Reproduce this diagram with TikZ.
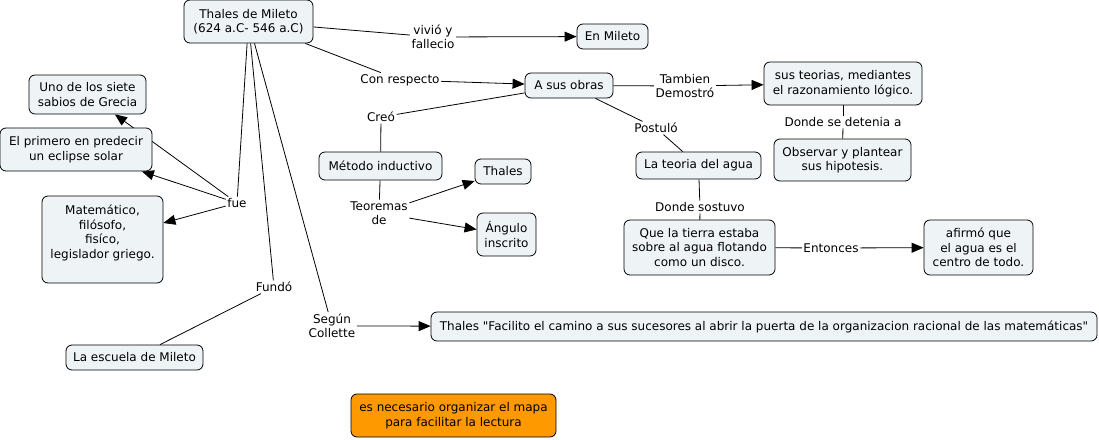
\documentclass[tikz,border=0pt]{standalone}
\usepackage{fontspec}
\setmainfont{DejaVu Sans}
\usetikzlibrary{arrows.meta,backgrounds}
\definecolor{cmapfill}{HTML}{EEF3F6}
\definecolor{cmaporange}{HTML}{FF9900}

\begin{document}
\begin{tikzpicture}[x=1pt,y=-1pt,
		font=\fontsize{12}{14.5}\selectfont,
		concept/.style={draw, rounded corners=6pt, fill=cmapfill, align=center, inner sep=1pt, line width=0.8pt},
		link/.style={align=center, inner sep=1.5pt},
		arr/.style={-{Triangle[length=12pt,width=10pt]}, line width=0.8pt},
		ln/.style={line width=0.8pt}]
	\useasboundingbox (0,0) rectangle (1099,439);
	% concepts
	\node[concept, minimum width=129, minimum height=43] (thales) at (248.5,21.5) {Thales de Mileto\\(624 a.C- 546 a.C)};
	\node[concept, minimum width=71, minimum height=25] (mileto) at (612.5,36.5) {En Mileto};
	\node[concept, minimum width=88, minimum height=25] (obras) at (569,85.5) {A sus obras};
	\node[concept, minimum width=158, minimum height=43] (teorias) at (843,83.5) {sus teorias, mediantes\\el razonamiento lógico.};
	\node[concept, minimum width=137, minimum height=42] (observar) at (842.5,160) {Observar y plantear\\sus hipotesis.};
	\node[concept, minimum width=125, minimum height=27] (agua) at (698.5,165.5) {La teoria del agua};
	\node[concept, minimum width=151, minimum height=55] (tierra) at (699.5,247.5) {Que la tierra estaba\\sobre al agua flotando\\como un disco.};
	\node[concept, minimum width=109, minimum height=55] (centro) at (978.5,247.5) {afirmó que\\el agua es el\\centro de todo.};
	\node[concept, minimum width=666, minimum height=29] (collette) at (764,326.5) {Thales \textquotedbl Facilito el camino a sus sucesores al abrir la puerta de la organizacion racional de las matemáticas\textquotedbl};
	\node[concept, minimum width=117, minimum height=39] (sabios) at (87.5,94.5) {Uno de los siete\\sabios de Grecia};
	\node[concept, minimum width=152, minimum height=43] (eclipse) at (76,149.5) {El primero en predecir\\un eclipse solar};
	\node[concept, minimum width=121, minimum height=87, text depth=16pt] (matematico) at (102.5,239.5) {Matemático,\\filósofo,\\fisíco,\\legislador griego.};
	\node[concept, minimum width=137, minimum height=25] (escuela) at (134.5,357.5) {La escuela de Mileto};
	\node[concept, minimum width=123, minimum height=28] (metodo) at (380.5,166) {Método inductivo};
	\node[concept, minimum width=56, minimum height=25] (teothales) at (503,171.5) {Thales};
	\node[concept, minimum width=59, minimum height=43] (angulo) at (506.5,234.5) {Ángulo\\inscrito};
	\node[concept, fill=cmaporange, minimum width=205, minimum height=43] (nota) at (453.5,415.5) {es necesario organizar el mapa\\para facilitar la lectura};
	% linking phrases
	\node[link] (vivio) at (433,37) {vivió y\\fallecio};
	\node[link] (respecto) at (400,80) {Con respecto};
	\node[link] (demostro) at (685,86) {Tambien\\Demostró};
	\node[link] (postulo) at (656,128) {Postuló};
	\node[link] (detenia) at (843,122) {Donde se detenia a};
	\node[link] (sostuvo) at (700,207) {Donde sostuvo};
	\node[link] (entonces) at (831,248) {Entonces};
	\node[link] (creo) at (381,117) {Creó};
	\node[link] (teoremas) at (379,213) {Teoremas\\de};
	\node[link] (fue) at (237,203) {fue};
	\node[link] (fundo) at (274,287) {Fundó};
	\node[link] (segun) at (332,326) {Según\\Collette};
	% connectors
	\begin{pgfonlayer}{background}
		\draw[ln] (thales) -- (vivio);
		\draw[arr] (vivio) -- (mileto);
		\draw[ln] (thales) -- (respecto);
		\draw[arr] (respecto) -- (obras);
		\draw[ln] (obras) -- (demostro);
		\draw[arr] (demostro) -- (teorias);
		\draw[ln] (obras) -- (postulo);
		\draw[ln] (postulo) -- (agua);
		\draw[ln] (teorias) -- (detenia);
		\draw[ln] (detenia) -- (observar);
		\draw[ln] (agua) -- (sostuvo);
		\draw[ln] (sostuvo) -- (tierra);
		\draw[ln] (tierra) -- (entonces);
		\draw[arr] (entonces) -- (centro);
		\draw[ln] (obras) -- (creo);
		\draw[ln] (creo) -- (metodo);
		\draw[ln] (metodo) -- (teoremas);
		\draw[arr] (teoremas) -- (teothales);
		\draw[arr] (teoremas) -- (angulo);
		\draw[ln] (thales) -- (fue);
		\draw[arr] (fue) -- (sabios);
		\draw[arr] (fue) -- (eclipse);
		\draw[arr] (fue) -- (matematico);
		\draw[ln] (thales) -- (fundo);
		\draw[ln] (fundo) -- (escuela);
		\draw[ln] (thales) -- (segun);
		\draw[arr] (segun) -- (collette);
	\end{pgfonlayer}
\end{tikzpicture}
\end{document}
